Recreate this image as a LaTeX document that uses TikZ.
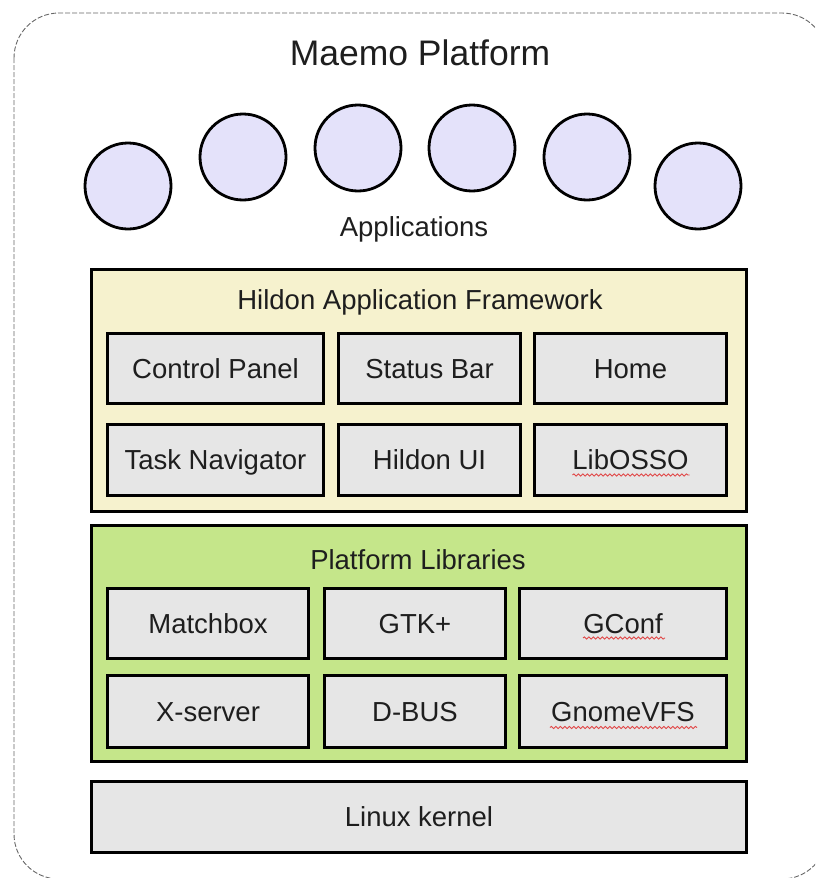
\documentclass[tikz,border=0pt]{standalone}
\usepackage{fontspec}
\setmainfont{Liberation Sans}
\usetikzlibrary{decorations.pathmorphing}
\definecolor{lav}{RGB}{228,226,250}
\definecolor{cream}{RGB}{246,242,206}
\definecolor{lgreen}{RGB}{197,230,138}
\definecolor{cellgray}{RGB}{230,230,230}
\definecolor{wavered}{RGB}{225,70,70}
\definecolor{txt}{RGB}{30,30,30}
\begin{document}
\begin{tikzpicture}[x=1pt,y=-1pt,
  app/.style={circle, draw=black, line width=2.8pt, fill=lav, minimum size=86pt, inner sep=0pt},
  layer/.style={draw=black, line width=3pt, rectangle, inner sep=0pt},
  cell/.style={draw=black, line width=3pt, rectangle, fill=cellgray, inner sep=0pt,
    text=txt, font=\fontsize{27.5}{30}\selectfont, text height=19.7pt, text depth=0pt},
  lbl/.style={text=txt, inner sep=0pt, anchor=base, font=\fontsize{27.5}{30}\selectfont},
  wavy/.style={draw=wavered, line width=0.9pt, decorate,
    decoration={snake, amplitude=1.1pt, segment length=4.5pt}}]
\useasboundingbox (0,0) rectangle (815,878);
\clip (0,0) rectangle (815,878);
% outer dashed frame
\draw[draw=gray!80!black, line width=0.9pt, dash pattern=on 5pt off 2pt, rounded corners=45pt]
  (14,13) rectangle (827,879);
\node[lbl, font=\fontsize{35.5}{40}\selectfont] (title) at (420,65) {Maemo Platform};
% applications
\node[app] (a1) at (128,186) {};
\node[app] (a2) at (243,157) {};
\node[app] (a3) at (358,148) {};
\node[app] (a4) at (472,148) {};
\node[app] (a5) at (587,157) {};
\node[app] (a6) at (698,186) {};
\node[lbl] (apps) at (414,236) {Applications};
% Hildon layer
\node[layer, fill=cream, minimum width=655pt, minimum height=242pt] (haf) at (419,390.5) {};
\node[lbl] (hafT) at (420,309) {Hildon Application Framework};
\node[cell, minimum width=216pt, minimum height=70pt] (cp) at (215.5,368.5) {Control Panel};
\node[cell, minimum width=182pt, minimum height=70pt] (sb) at (429.5,368.5) {Status Bar};
\node[cell, minimum width=192pt, minimum height=70pt] (home) at (630.5,368.5) {Home};
\node[cell, minimum width=216pt, minimum height=71pt] (tn) at (215.5,460) {Task Navigator};
\node[cell, minimum width=182pt, minimum height=71pt] (hui) at (429.5,460) {Hildon UI};
\node[cell, minimum width=192pt, minimum height=71pt] (osso) at (630.5,460) {LibOSSO};
\draw[wavy] ([xshift=-58pt,yshift=-15pt]osso.center) -- ([xshift=59pt,yshift=-15pt]osso.center);
% Platform libraries
\node[layer, fill=lgreen, minimum width=655pt, minimum height=236pt] (pl) at (419,643.5) {};
\node[lbl] (plT) at (418,569) {Platform Libraries};
\node[cell, minimum width=201pt, minimum height=70pt] (mb) at (208,623.5) {Matchbox};
\node[cell, minimum width=181pt, minimum height=70pt] (gtk) at (415,623.5) {GTK+};
\node[cell, minimum width=207pt, minimum height=70pt] (gconf) at (623,623.5) {GConf};
\node[cell, minimum width=201pt, minimum height=72pt] (xs) at (208,711.5) {X-server};
\node[cell, minimum width=181pt, minimum height=72pt] (dbus) at (415,711.5) {D-BUS};
\node[cell, minimum width=207pt, minimum height=72pt] (vfs) at (623,711.5) {GnomeVFS};
\draw[wavy] ([xshift=-40pt,yshift=-14.5pt]gconf.center) -- ([xshift=42pt,yshift=-14.5pt]gconf.center);
\draw[wavy] ([xshift=-73pt,yshift=-16pt]vfs.center) -- ([xshift=74pt,yshift=-16pt]vfs.center);
% kernel
\node[cell, minimum width=655pt, minimum height=71pt] (lk) at (419,817) {Linux kernel};
\end{tikzpicture}
\end{document}
